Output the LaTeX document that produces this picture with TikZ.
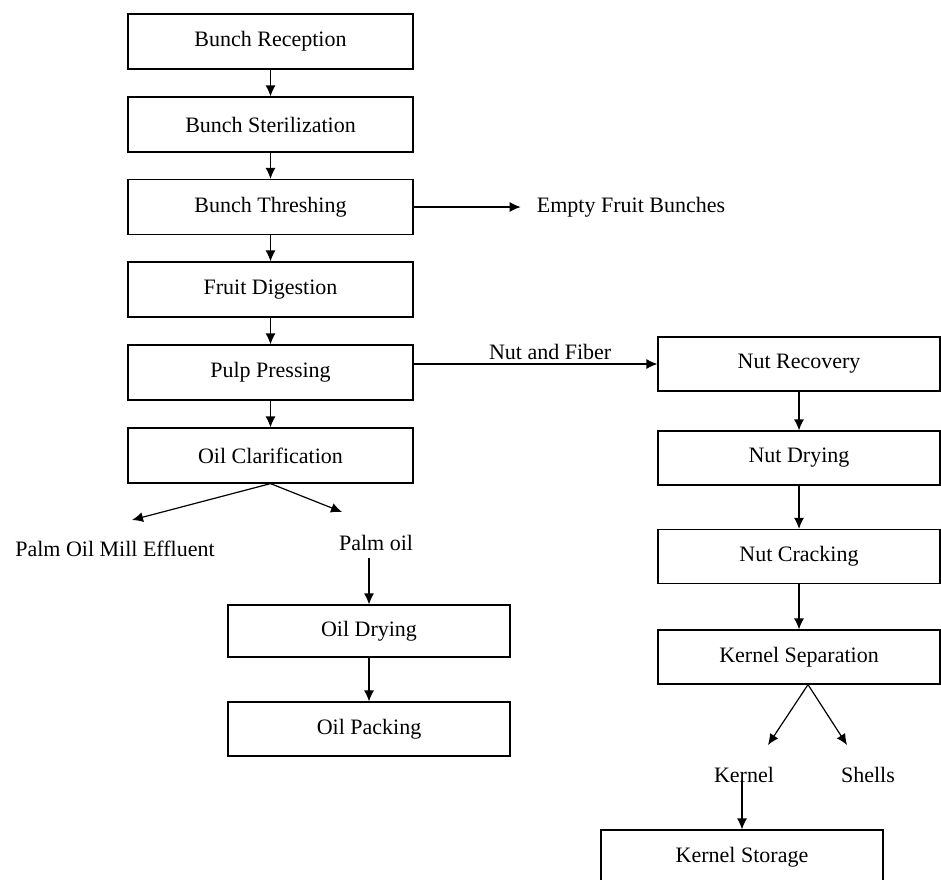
\documentclass[tikz,border=0pt]{standalone}
\usepackage{fontspec}
\setmainfont{Liberation Serif}
\usetikzlibrary{arrows.meta}

\begin{document}
\begin{tikzpicture}[x=1pt,y=-1pt,>={Latex[length=11pt,width=10pt]},
  every node/.style={font=\fontsize{22}{26}\selectfont},
  stage/.style={draw,line width=1.2pt,minimum width=285pt,minimum height=55pt,inner sep=0pt},
  sidestage/.style={stage,minimum width=282pt,minimum height=54pt},
  product/.style={inner sep=0pt},
  flow/.style={->,line width=1.2pt}]
  \useasboundingbox (0,0) rectangle (941,879);
  \node[stage] (rec) at (270.5,41.5) {Bunch Reception};
  \node[stage] (ster) at (270.5,124.5) {Bunch Sterilization};
  \node[stage] (thr) at (270.5,207) {Bunch Threshing};
  \node[stage] (dig) at (270.5,289.5) {Fruit Digestion};
  \node[stage] (pre) at (270.5,372.5) {Pulp Pressing};
  \node[stage] (cla) at (270.5,455.5) {Oil Clarification};
  \node[product] (pome) at (115,549) {Palm Oil Mill Effluent};
  \node[product] (palm) at (376,543) {Palm oil};
  \node[sidestage,minimum height=52pt] (dry) at (369,631) {Oil Drying};
  \node[sidestage] (pack) at (369,729) {Oil Packing};
  \node[product] (efb) at (631,207) {Empty Fruit Bunches};
  \node[sidestage] (rcv) at (799,364) {Nut Recovery};
  \node[sidestage] (ndry) at (799,458) {Nut Drying};
  \node[sidestage] (crk) at (799,556.5) {Nut Cracking};
  \node[sidestage] (ksep) at (799,657) {Kernel Separation};
  \node[product] (kern) at (744,775) {Kernel};
  \node[product] (shell) at (868,775) {Shells};
  \node[sidestage,minimum height=55pt] (kst) at (742,857.5) {Kernel Storage};
  \coordinate (pomeTip) at (132,520);
  \coordinate (palmTip) at (342,512);
  \coordinate (kernTip) at (768,745);
  \coordinate (shellTip) at (847,745);
  \draw[flow] (rec) -- (ster);
  \draw[flow] (ster) -- (thr);
  \draw[flow] (thr) -- (dig);
  \draw[flow] (dig) -- (pre);
  \draw[flow] (pre) -- (cla);
  \draw[flow] (thr.east) -- ([xshift=-16pt]efb.west);
  \draw[flow] (pre.east |- rcv.west) -- node[pos=0.56,above] {Nut and Fiber} (rcv.west);
  \draw[flow] (cla.south) -- (pomeTip);
  \draw[flow] (cla.south) -- (palmTip);
  \draw[flow] ([yshift=-7pt]palm.south -| dry.north) -- (dry.north);
  \draw[flow] (dry) -- (pack);
  \draw[flow] (rcv) -- (ndry);
  \draw[flow] (ndry) -- (crk);
  \draw[flow] (crk) -- (ksep);
  \draw[flow] ([xshift=9pt]ksep.south) -- (kernTip);
  \draw[flow] ([xshift=9pt]ksep.south) -- (shellTip);
  \draw[flow] ([yshift=3pt]kern.south -| kst.north) -- (kst.north);
\end{tikzpicture}
\end{document}
